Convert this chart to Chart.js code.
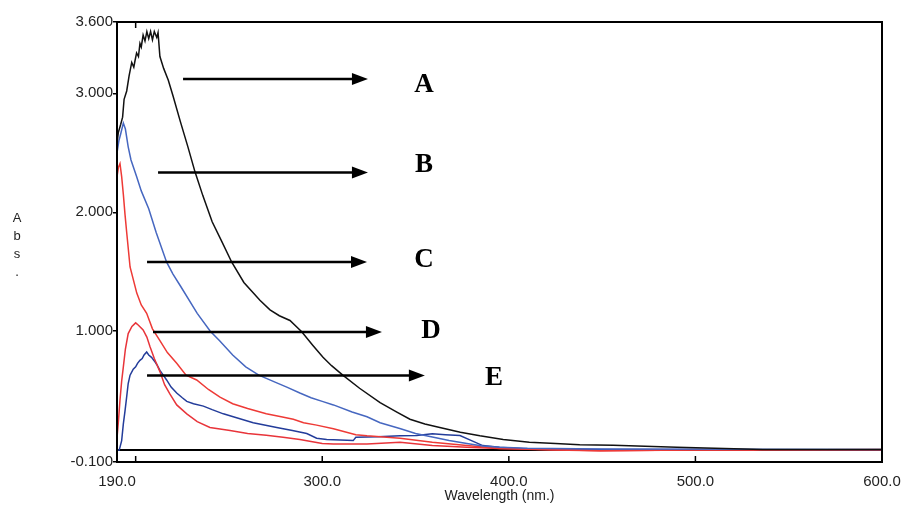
<!DOCTYPE html>
<html>
<head>
<meta charset="utf-8">
<script src="https://cdn.jsdelivr.net/npm/chart.js@4.4.0/dist/chart.umd.min.js"></script>
<style>
  body { margin: 0; background: #fff; }
  canvas { display: block; }
</style>
</head>
<body>
<canvas id="chart" width="901" height="506"></canvas>
<script>
// wavelength (nm) / absorbance, one pair of arrays per curve
var nmA = [190, 190.7, 192, 193, 193.8, 195.2, 196.5, 197.9, 199, 199.6, 200.5, 201.5, 202.3, 203, 204, 205, 206, 207, 208, 209, 210, 211.3, 212, 213, 215, 217.5, 220, 224, 228, 231.8, 236, 241, 246, 251.5, 258, 266.6, 272, 277, 282.7, 289, 295, 300.4, 305, 311, 320, 331, 340, 347, 355, 363, 374, 384.5, 397, 411, 425, 438, 456, 490, 536, 600];
var absA = [2.58, 2.67, 2.74, 2.80, 2.95, 3.02, 3.15, 3.26, 3.22, 3.27, 3.34, 3.31, 3.42, 3.39, 3.49, 3.44, 3.52, 3.46, 3.52, 3.45, 3.52, 3.47, 3.51, 3.31, 3.21, 3.11, 2.98, 2.76, 2.55, 2.34, 2.14, 1.92, 1.76, 1.58, 1.41, 1.26, 1.18, 1.13, 1.09, 0.995, 0.88, 0.78, 0.71, 0.63, 0.52, 0.40, 0.32, 0.26, 0.22, 0.19, 0.15, 0.12, 0.09, 0.066, 0.055, 0.046, 0.04, 0.025, 0.005, 0.005];

var nmB = [190, 191, 192, 193.4, 194.5, 196, 197.5, 200.5, 203, 207, 211, 216.6, 220, 224, 233, 240, 245, 252, 259, 266, 275, 281, 288, 294, 300, 306, 316, 324, 331, 342, 350, 359, 368, 377.5, 386, 395, 410, 450, 600];
var absB = [2.50, 2.60, 2.66, 2.75, 2.70, 2.55, 2.44, 2.30, 2.18, 2.03, 1.83, 1.58, 1.48, 1.38, 1.15, 1.00, 0.92, 0.80, 0.70, 0.63, 0.57, 0.53, 0.48, 0.44, 0.41, 0.38, 0.32, 0.28, 0.23, 0.18, 0.14, 0.11, 0.08, 0.055, 0.035, 0.024, 0.015, 0.01, 0.005];

var nmC = [190, 190.8, 191.6, 192.5, 193.4, 194.3, 195.2, 197, 200.6, 203, 205.9, 209, 213, 217, 222, 227, 232.7, 239, 245.2, 252, 260, 270, 278, 284.5, 290, 297, 306, 318, 324, 341.7, 359, 377.5, 395, 402, 423, 449, 495, 535, 600];
var absC = [2.30, 2.38, 2.41, 2.30, 2.15, 1.98, 1.83, 1.54, 1.32, 1.22, 1.15, 1.02, 0.92, 0.82, 0.73, 0.63, 0.59, 0.51, 0.445, 0.39, 0.35, 0.305, 0.28, 0.26, 0.23, 0.21, 0.18, 0.13, 0.12, 0.10, 0.066, 0.038, 0.013, 0.012, 0.0, -0.005, 0.0, 0.0, 0.005];

var nmD = [190, 190.8, 191.6, 192.5, 193.4, 194.5, 196, 198, 200, 201.5, 204, 206, 207.7, 210, 213, 215.5, 218.4, 222, 227.4, 233, 239.8, 250.6, 260, 270, 279, 288, 300, 306, 324, 341.7, 359, 377.5, 395, 420, 449, 500, 600];
var absD = [0.10, 0.25, 0.42, 0.58, 0.70, 0.85, 0.98, 1.04, 1.07, 1.05, 1.01, 0.95, 0.87, 0.77, 0.66, 0.55, 0.47, 0.38, 0.305, 0.24, 0.19, 0.165, 0.14, 0.125, 0.108, 0.09, 0.055, 0.052, 0.052, 0.066, 0.038, 0.024, 0.013, 0.005, -0.005, 0.0, 0.0];

var nmE = [190, 191.2, 192.5, 193.4, 194.3, 195.2, 196, 197, 198.7, 200, 201, 202.3, 203.5, 204.5, 205.9, 207, 208.5, 210, 211.3, 213, 214.8, 216.6, 219, 222, 225, 227.4, 231, 236.3, 241, 247, 252.3, 263, 275.6, 284, 291.7, 297, 302.4, 316.6, 318, 330, 341.7, 350.6, 359, 366, 373.8, 380, 386, 395, 410, 450, 600];
var absE = [0.0, 0.0, 0.08, 0.22, 0.33, 0.45, 0.56, 0.63, 0.68, 0.70, 0.73, 0.755, 0.77, 0.80, 0.825, 0.80, 0.78, 0.75, 0.72, 0.67, 0.63, 0.59, 0.53, 0.48, 0.44, 0.41, 0.39, 0.37, 0.34, 0.305, 0.28, 0.23, 0.19, 0.165, 0.14, 0.10, 0.09, 0.08, 0.108, 0.112, 0.12, 0.122, 0.137, 0.13, 0.122, 0.08, 0.038, 0.024, 0.01, 0.005, 0.0];

// axis ticks
var yTicks = [-0.1, 1, 2, 3, 3.6];
var xLabels = [190, 300, 400, 500, 600];
var xMarks = [200, 300, 400, 500];

// arrow labels (in data units)
var arrowLetters = ['A', 'B', 'C', 'D', 'E'];
var arrowFrom = [225.4, 212, 206.1, 209.3, 206.1];
var arrowTo = [324.5, 324.5, 324, 332, 355];
var arrowAbs = [3.121, 2.334, 1.581, 0.993, 0.628];
var letterNm = [354.5, 354.5, 354.5, 358.3, 392];
var letterAbs = [3.073, 2.399, 1.598, 1.0, 0.603];

function pts(xs, ys) {
  return xs.map(function(x, i) { return { x: x, y: ys[i] }; });
}

var extras = {
  id: 'extras',
  beforeDatasetsDraw: function(chart) {
    var ctx = chart.ctx, a = chart.chartArea;
    var y0 = chart.scales.y.getPixelForValue(0);
    ctx.save();
    ctx.strokeStyle = '#000';
    ctx.lineWidth = 2;
    ctx.beginPath();
    ctx.moveTo(a.left, y0);
    ctx.lineTo(a.right, y0);
    ctx.stroke();
    ctx.restore();
  },
  afterDatasetsDraw: function(chart) {
    var ctx = chart.ctx, a = chart.chartArea;
    var xs = chart.scales.x, ys = chart.scales.y;
    ctx.save();
    ctx.strokeStyle = '#000';
    ctx.lineWidth = 2;
    ctx.strokeRect(a.left, a.top, a.right - a.left, a.bottom - a.top);

    // ticks pointing into the plot
    ctx.lineWidth = 1.5;
    xMarks.forEach(function(v) {
      var px = xs.getPixelForValue(v);
      ctx.beginPath();
      ctx.moveTo(px, a.bottom);
      ctx.lineTo(px, a.bottom - 6);
      ctx.stroke();
    });
    var pt = xs.getPixelForValue(xMarks[0]);
    ctx.beginPath();
    ctx.moveTo(pt, a.top);
    ctx.lineTo(pt, a.top + 6);
    ctx.stroke();

    // arrows + letters
    ctx.fillStyle = '#000';
    ctx.lineWidth = 2.5;
    for (var i = 0; i < arrowLetters.length; i++) {
      var x1 = xs.getPixelForValue(arrowFrom[i]);
      var x2 = xs.getPixelForValue(arrowTo[i]);
      var y = ys.getPixelForValue(arrowAbs[i]);
      ctx.beginPath();
      ctx.moveTo(x1, y);
      ctx.lineTo(x2 - 14, y);
      ctx.stroke();
      ctx.beginPath();
      ctx.moveTo(x2, y);
      ctx.lineTo(x2 - 16, y - 6);
      ctx.lineTo(x2 - 16, y + 6);
      ctx.closePath();
      ctx.fill();
      ctx.font = 'bold 27px "Liberation Serif"';
      ctx.textAlign = 'center';
      ctx.textBaseline = 'middle';
      ctx.fillText(arrowLetters[i], xs.getPixelForValue(letterNm[i]), ys.getPixelForValue(letterAbs[i]));
    }

    // stacked y title
    ctx.fillStyle = '#222';
    ctx.font = '13px "Liberation Sans"';
    ['A', 'b', 's', '.'].forEach(function(ch, k) {
      ctx.fillText(ch, 17, 218 + k * 18);
    });
    ctx.restore();
  }
};

var chart = new Chart('chart', {
  type: 'line',
  data: {
    datasets: [
      { label: 'A', data: pts(nmA, absA), borderColor: '#111111' },
      { label: 'B', data: pts(nmB, absB), borderColor: '#4667c0' },
      { label: 'C', data: pts(nmC, absC), borderColor: '#ee3a36' },
      { label: 'D', data: pts(nmD, absD), borderColor: '#e8343a' },
      { label: 'E', data: pts(nmE, absE), borderColor: '#233c9a' }
    ]
  },
  options: {
    responsive: false,
    animation: false,
    layout: { padding: { left: 0, top: 22, right: 19, bottom: 0 } },
    elements: {
      point: { radius: 0 },
      line: { borderWidth: 1.5, tension: 0, fill: false }
    },
    plugins: {
      legend: { display: false },
      tooltip: { enabled: false }
    },
    scales: {
      x: {
        type: 'linear',
        min: 190,
        max: 600,
        afterBuildTicks: function(s) { s.ticks = xLabels.map(function(v) { return { value: v }; }); },
        afterFit: function(s) { s.height = 44; s.paddingLeft = 0; s.paddingRight = 0; },
        grid: { display: false, drawTicks: false },
        border: { display: false },
        ticks: {
          padding: 11,
          maxRotation: 0,
          autoSkip: false,
          color: '#222',
          font: { family: 'Liberation Sans', size: 15 },
          callback: function(v) { return v.toFixed(1); }
        },
        title: {
          display: true,
          text: 'Wavelength (nm.)',
          color: '#222',
          font: { family: 'Liberation Sans', size: 14 },
          padding: { top: 0, bottom: 1 }
        }
      },
      y: {
        min: -0.1,
        max: 3.6,
        afterBuildTicks: function(s) { s.ticks = yTicks.map(function(v) { return { value: v }; }); },
        afterFit: function(s) { s.width = 117; s.paddingTop = 0; s.paddingBottom = 0; },
        grid: { drawOnChartArea: false, drawTicks: true, tickLength: 4, color: '#000', lineWidth: 1.5 },
        border: { display: false },
        ticks: {
          padding: 0,
          autoSkip: false,
          color: '#222',
          font: { family: 'Liberation Sans', size: 15 },
          callback: function(v) { return v.toFixed(3); }
        }
      }
    }
  },
  plugins: [extras]
});
</script>
</body>
</html>
